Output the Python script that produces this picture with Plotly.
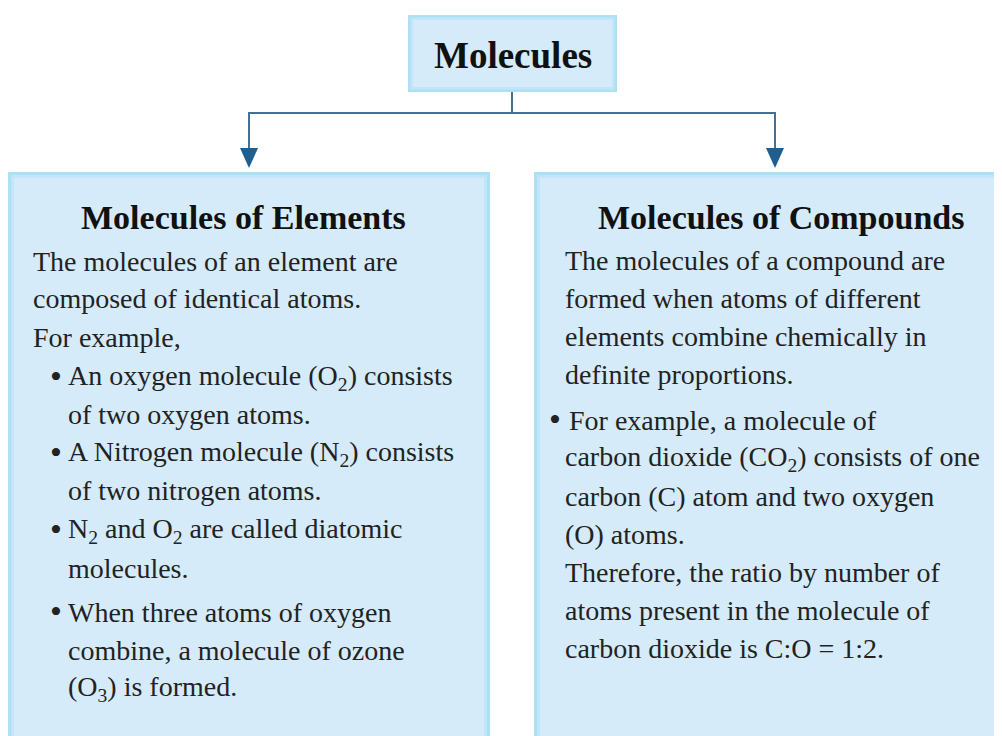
import plotly.graph_objects as go

# ---- content ----
root_label = "Molecules"
left_title = "Molecules of Elements"
right_title = "Molecules of Compounds"

left_lines = [
    "The molecules of an element are",
    "composed of identical atoms.",
    "For example,",
    "An oxygen molecule (O<sub>2</sub>) consists",
    "of two oxygen atoms.",
    "A Nitrogen molecule (N<sub>2</sub>) consists",
    "of two nitrogen atoms.",
    "N<sub>2</sub> and O<sub>2</sub> are called diatomic",
    "molecules.",
    "When three atoms of oxygen",
    "combine, a molecule of ozone",
    "(O<sub>3</sub>) is formed.",
]
left_y = [261, 298, 337, 377, 414, 453, 490, 530, 568, 612, 650, 688]
left_bullet = [False, False, False, True, False, True, False, True, False, True, False, False]
left_indent = [False, False, False, True, True, True, True, True, True, True, True, True]

right_lines = [
    "The molecules of a compound are",
    "formed when atoms of different",
    "elements combine chemically in",
    "definite proportions.",
    "For example, a molecule of",
    "carbon dioxide (CO<sub>2</sub>) consists of one",
    "carbon (C) atom and two oxygen",
    "(O) atoms.",
    "Therefore, the ratio by number of",
    "atoms present in the molecule of",
    "carbon dioxide is C:O = 1:2.",
]
right_y = [260, 298, 336, 374, 420, 458, 496, 534, 572, 610, 648]
right_bullet = [False, False, False, False, True, False, False, False, False, False, False]

FONT = "Liberation Serif"
TXT = "#222222"
LINE = "#46708f"
ARROW = "#1f5f8f"
OFF = 8  # page body margin compensation

fig = go.Figure()
shapes = []
ann = []

def glow_box(x0, y0, x1, y1, inset=6):
    shapes.append(dict(type="rect", x0=x0, y0=y0, x1=x1, y1=y1, line=dict(width=0),
                       fillcolor="#ade0f5", layer="below"))
    shapes.append(dict(type="rect", x0=x0 + inset / 2, y0=y0 + inset / 2, x1=x1 - inset / 2, y1=y1 - inset / 2,
                       line=dict(width=0), fillcolor="#c2e6f8", layer="below"))
    shapes.append(dict(type="rect", x0=x0 + inset, y0=y0 + inset, x1=x1 - inset, y1=y1 - inset,
                       line=dict(width=0), fillcolor="#d5ebf9", layer="below"))

# root box
glow_box(408, 15, 617, 92, inset=5)
ann.append(dict(x=513, y=55, text="<b>%s</b>" % root_label, showarrow=False,
                font=dict(family=FONT, size=37, color="#111111"), xanchor="center", yanchor="middle"))

# connectors
shapes.append(dict(type="line", x0=512, y0=92, x1=512, y1=113, line=dict(color=LINE, width=2)))
shapes.append(dict(type="line", x0=249, y0=113, x1=775, y1=113, line=dict(color=LINE, width=2)))
shapes.append(dict(type="line", x0=249, y0=112, x1=249, y1=150, line=dict(color=LINE, width=2)))
shapes.append(dict(type="line", x0=775, y0=112, x1=775, y1=150, line=dict(color=LINE, width=2)))
for ax in (249, 775):
    shapes.append(dict(type="path", path="M %d 148 L %d 148 L %d 168 Z" % (ax - 9, ax + 9, ax),
                       fillcolor=ARROW, line=dict(width=0)))

# child boxes
glow_box(8, 172, 490, 745)
glow_box(534, 172, 1015, 745)

ann.append(dict(x=243, y=217, text="<b>%s</b>" % left_title, showarrow=False,
                font=dict(family=FONT, size=34, color="#111111"), xanchor="center", yanchor="middle"))
ann.append(dict(x=781, y=217, text="<b>%s</b>" % right_title, showarrow=False,
                font=dict(family=FONT, size=34, color="#111111"), xanchor="center", yanchor="middle"))

BODY = 28
BUL = 34
for t, y, b, ind in zip(left_lines, left_y, left_bullet, left_indent):
    x = 66 if ind else 31
    ann.append(dict(x=x, y=y, text=t, showarrow=False, xanchor="left", yanchor="middle",
                    font=dict(family=FONT, size=BODY, color=TXT)))
    if b:
        ann.append(dict(x=56, y=y - 1, text="•", showarrow=False, xanchor="center", yanchor="middle",
                        font=dict(family=FONT, size=BUL, color=TXT)))

for t, y, b in zip(right_lines, right_y, right_bullet):
    x = 567 if b else 563
    ann.append(dict(x=x, y=y, text=t, showarrow=False, xanchor="left", yanchor="middle",
                    font=dict(family=FONT, size=BODY, color=TXT)))
    if b:
        ann.append(dict(x=555, y=y - 1, text="•", showarrow=False, xanchor="center", yanchor="middle",
                        font=dict(family=FONT, size=BUL, color=TXT)))

fig.update_layout(
    width=1002, height=736,
    margin=dict(l=0, r=0, t=0, b=0),
    paper_bgcolor="white", plot_bgcolor="white",
    xaxis=dict(range=[OFF, 1002 + OFF], visible=False, fixedrange=True),
    yaxis=dict(range=[736 + OFF, OFF], visible=False, fixedrange=True),
    shapes=shapes, annotations=ann, showlegend=False,
)
fig.write_html("out.html")
